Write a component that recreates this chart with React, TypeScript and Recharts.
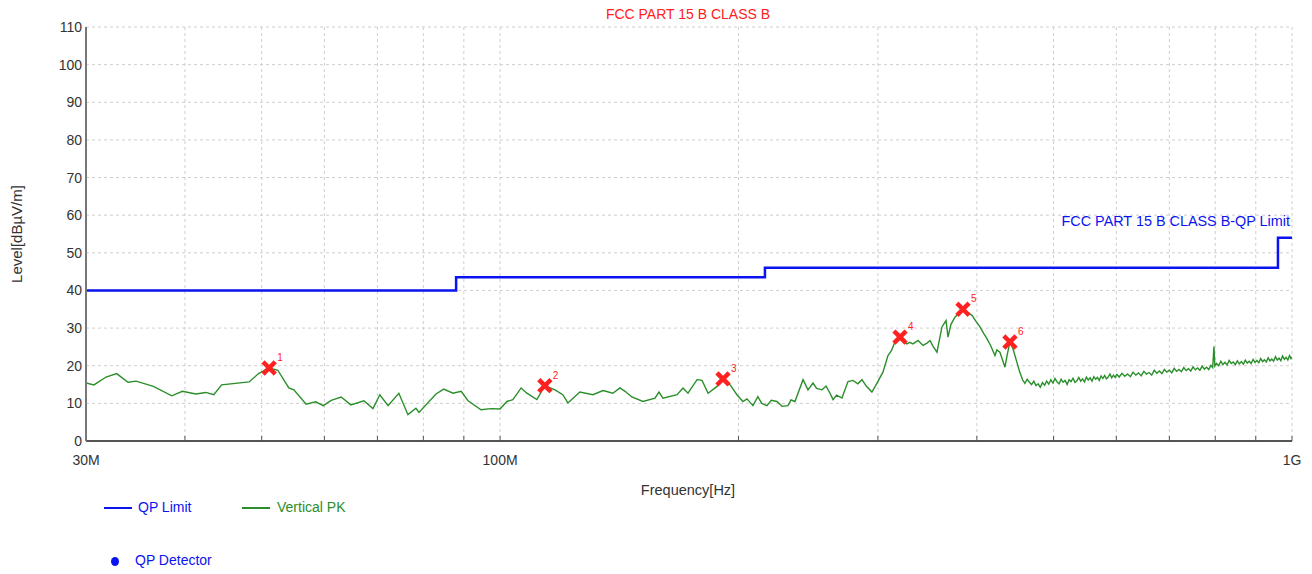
import { CartesianGrid, ComposedChart, Line, Scatter, XAxis, YAxis } from "recharts";

// frequency in MHz, level in dBµV/m
const limitFreq = [30, 88, 216, 960, 1000];
const limitLevel = [40, 43.5, 46, 54, 54];

const markerFreq = [51.1, 113.9, 191.2, 319.9, 384.2, 440.4];
const markerLevel = [19.4, 14.7, 16.5, 27.6, 35.0, 26.3];

const lowBand: [number, number][] = [
  [30, 15.4], [30.7, 14.9], [31.8, 17.0], [32.8, 17.9], [33.9, 15.6], [34.7, 15.9],
  [36.5, 14.5], [38.5, 12.0], [39.7, 13.2], [41.3, 12.5], [42.5, 12.9], [43.5, 12.3],
  [44.5, 14.9], [48.2, 15.7], [49.6, 18.0], [51.1, 19.4], [52.4, 18.8], [54.1, 14.1],
  [54.9, 13.6], [56.9, 9.8], [58.5, 10.4], [59.8, 9.4], [61.2, 10.8], [63.0, 11.7],
  [64.8, 9.6], [67.3, 10.7], [69.1, 8.6], [70.5, 12.3], [72.2, 9.4], [74.5, 12.7],
  [76.5, 7.0], [78.3, 8.7], [79.0, 7.6], [83.0, 12.5], [84.9, 13.8], [87.2, 12.7],
  [89.3, 13.2], [91.1, 10.7], [94.6, 8.3], [97.4, 8.6], [100, 8.5],
];

const midBand: [number, number][] = [
  [102, 10.5], [103.8, 11.0], [106.3, 14.1], [108.1, 12.7], [111.3, 11.0], [113.9, 14.7],
  [117.3, 13.6], [120, 12.3], [121.8, 10.1], [126.1, 13.0], [131, 12.3], [134.9, 13.4],
  [138.8, 12.7], [141.7, 14.1], [143.8, 13.2], [146.7, 11.7], [151.5, 10.5], [156.9, 11.4],
  [158.7, 13.0], [160.6, 11.4], [167.3, 12.3], [170.2, 14.1], [172.7, 12.7], [177.3, 16.3],
  [179.9, 16.1], [183.1, 12.7], [187.9, 14.5], [191.2, 16.5], [195.2, 14.9], [199.1, 12.3],
  [202.6, 10.5], [205, 11.2], [208.6, 9.4], [211.6, 11.8], [214, 10.0], [217.3, 9.4],
  [220, 10.8], [223.7, 10.5], [227, 9.2], [231, 9.4], [233, 10.9], [235.7, 10.5],
  [241.3, 16.3], [244.8, 13.6], [248.4, 15.4], [251, 14.0], [255, 13.6], [258, 14.6],
  [261, 12.7], [263.3, 11.0], [266, 12.2], [270.2, 11.4], [275, 15.8], [279, 16.1],
  [283, 15.2], [286.4, 16.3], [290, 14.6], [294.8, 13.0], [299.1, 15.3],
];

const peakBand: [number, number][] = [
  [304.4, 18.3], [308.9, 22.7], [312, 24.0], [315.2, 26.3], [319.9, 27.6], [323, 26.4],
  [326.4, 25.8], [329, 26.2], [332.2, 25.8], [337.1, 26.7], [342, 25.4], [346, 26.0],
  [349.1, 26.7], [352, 25.2], [356.2, 23.6], [361.4, 30.3], [365.7, 32.0], [367.8, 27.6],
  [371, 31.0], [375.3, 32.9], [379, 33.8], [384.2, 35.0], [389, 34.2], [394.4, 33.4],
  [399, 31.8], [403.6, 30.3], [408, 28.6], [411.9, 27.2], [416, 25.5], [421.6, 22.7],
  [424, 24.2], [427.7, 23.6], [431, 21.5], [434, 19.6], [437, 23.0], [440.4, 26.3],
  [444.3, 24.5], [449.4, 20.9], [453, 18.4],
];

const highBand: [number, number][] = [
  [457, 16.2], [460, 15.3], [463, 16.4], [466, 15.6], [469, 15.0], [472, 15.9],
  [475, 14.7], [478, 15.2], [481, 14.3], [484, 15.5], [487, 14.8], [490, 15.9],
  [493, 15.1], [496, 16.3], [499, 15.4], [502, 16.6], [505, 15.7], [508, 15.2],
  [511, 16.4], [514, 15.6], [517, 16.1], [520, 15.0], [523, 16.3], [526, 15.8],
  [529, 16.7], [532, 15.6], [535, 16.0], [538, 16.9], [541, 15.9], [544, 16.5],
  [547, 15.7], [550, 17.0], [553, 16.2], [556, 16.8], [559, 15.9], [562, 17.1],
  [565, 16.4], [568, 16.9], [571, 16.1], [574, 17.3], [577, 16.6], [580, 17.4],
  [583, 16.5], [586, 17.0], [589, 17.8], [592, 16.8], [595, 17.5], [598, 16.9],
  [601, 17.7], [605, 17.0], [610, 18.0], [615, 17.2], [620, 17.8], [625, 17.1],
  [630, 18.3], [635, 17.5], [640, 18.1], [645, 17.3], [650, 18.5], [655, 17.8],
  [660, 18.2], [665, 17.5], [670, 18.8], [675, 18.0], [680, 18.6], [685, 17.9],
  [690, 19.0], [695, 18.3], [700, 18.8], [705, 18.1], [710, 19.3], [715, 18.5],
  [720, 19.0], [725, 18.4], [730, 19.5], [735, 18.7], [740, 19.2], [745, 18.6],
  [750, 19.7], [755, 18.9], [760, 19.4], [765, 18.8], [770, 19.9], [775, 19.1],
  [780, 19.6], [785, 19.0], [790, 20.1], [794, 19.5], [797, 25.1], [799, 19.9],
  [803, 20.6], [808, 20.0], [813, 21.2], [818, 20.3], [823, 20.9], [828, 20.2],
  [833, 21.4], [838, 20.6], [843, 21.0], [848, 20.3], [853, 21.3], [858, 20.5],
  [863, 21.1], [868, 20.4], [873, 21.5], [878, 20.7], [883, 21.2], [888, 20.6],
  [893, 21.7], [898, 20.9], [903, 21.4], [908, 20.8], [913, 21.9], [918, 21.1],
  [923, 21.6], [928, 21.0], [933, 22.1], [938, 21.3], [943, 21.8], [948, 21.2],
  [953, 22.4], [958, 21.5], [963, 22.0], [968, 21.3], [973, 22.6], [978, 21.7],
  [983, 22.2], [988, 21.5], [993, 22.7], [997, 21.9], [1000, 22.3],
];

const xTicks = [30, 40, 50, 60, 70, 80, 90, 100, 200, 300, 400, 500, 600, 700, 800, 900, 1000];
const xTickLabels: Record<number, string> = { 30: "30M", 100: "100M", 1000: "1G" };
const yTicks = [0, 10, 20, 30, 40, 50, 60, 70, 80, 90, 100, 110];

const FONT = "'Liberation Sans', Arial, sans-serif";
const BLUE = "#0a14f0";
const GREEN = "#2a8f2a";
const RED = "#ff2020";

const limitData = limitFreq.map((f, i) => ({ freq: f, level: limitLevel[i] }));
const markerData = markerFreq.map((f, i) => ({ freq: f, level: markerLevel[i], id: i + 1 }));
const traceData = [...lowBand, ...midBand, ...peakBand, ...highBand].map(([freq, level]) => ({ freq, level }));

function MarkerShape(props: any) {
  const { cx, cy, payload } = props;
  if (cx == null || cy == null) return null;
  const s = 4.5;
  return (
    <g>
      <path
        d={`M${cx - s},${cy - s}L${cx + s},${cy + s}M${cx + s},${cy - s}L${cx - s},${cy + s}`}
        stroke={RED}
        strokeWidth={4.5}
        strokeLinecap="square"
      />
      <text x={cx + 8} y={cy - 7} fill={RED} fontSize={10} fontFamily={FONT}>
        {payload.id}
      </text>
    </g>
  );
}

const abs = (left: number, top: number, extra: any = {}) => ({
  position: "absolute" as const,
  left,
  top,
  boxSizing: "border-box" as const,
  fontFamily: FONT,
  whiteSpace: "nowrap" as const,
  ...extra,
});

export default function App() {
  return (
    <div style={{ position: "absolute", left: 0, top: 0, width: 1312, height: 574, background: "#fff" }}>
      <ComposedChart
        width={1312}
        height={574}
        margin={{ top: 27, right: 20, bottom: 103, left: 26 }}
      >
        <CartesianGrid strokeDasharray="3 3" stroke="#cfcfcf" />
        <XAxis
          dataKey="freq"
          type="number"
          scale="log"
          domain={[30, 1000]}
          ticks={xTicks}
          allowDataOverflow
          height={30}
          tickFormatter={(v: number) => xTickLabels[v] ?? ""}
          tick={{ fill: "#333", fontSize: 14, fontFamily: FONT }}
          tickSize={-5}
          tickMargin={19}
          tickLine={{ stroke: "#555" }}
          axisLine={{ stroke: "#555", strokeWidth: 2 }}
          interval={0}
        />
        <YAxis
          type="number"
          domain={[0, 110]}
          ticks={yTicks}
          width={60}
          tick={{ fill: "#333", fontSize: 14, fontFamily: FONT }}
          tickSize={0}
          tickMargin={4}
          tickLine={false}
          axisLine={{ stroke: "#777", strokeWidth: 2 }}
          interval={0}
        />
        <Line
          data={limitData}
          dataKey="level"
          type="stepAfter"
          stroke={BLUE}
          strokeWidth={2.5}
          dot={false}
          isAnimationActive={false}
        />
        <Line
          data={traceData}
          dataKey="level"
          type="linear"
          stroke={GREEN}
          strokeWidth={1.4}
          dot={false}
          isAnimationActive={false}
        />
        <Scatter data={markerData} dataKey="level" shape={MarkerShape} isAnimationActive={false} />
      </ComposedChart>

      <div style={abs(64, 6, { width: 1248, textAlign: "center", color: RED, fontSize: 14 })}>
        FCC PART 15 B CLASS B
      </div>
      <div style={abs(0, 213, { width: 1290, textAlign: "right", color: BLUE, fontSize: 14.4 })}>
        FCC PART 15 B CLASS B-QP Limit
      </div>
      <div
        style={abs(16, 234, {
          color: "#333",
          fontSize: 15,
          transform: "translate(-50%, -50%) rotate(-90deg)",
        })}
      >
        Level[dBµV/m]
      </div>
      <div style={abs(64, 482, { width: 1248, textAlign: "center", color: "#333", fontSize: 14.5 })}>
        Frequency[Hz]
      </div>

      <div style={abs(104, 507, { width: 28, height: 0, borderTop: `2px solid ${BLUE}` })} />
      <div style={abs(138, 499, { color: BLUE, fontSize: 14 })}>QP Limit</div>
      <div style={abs(242, 507, { width: 28, height: 0, borderTop: `2px solid ${GREEN}` })} />
      <div style={abs(277, 499, { color: GREEN, fontSize: 14 })}>Vertical PK</div>
      <div style={abs(111, 557, { width: 8, height: 9, borderRadius: "50%", background: BLUE })} />
      <div style={abs(135, 552, { color: BLUE, fontSize: 14 })}>QP Detector</div>
    </div>
  );
}
